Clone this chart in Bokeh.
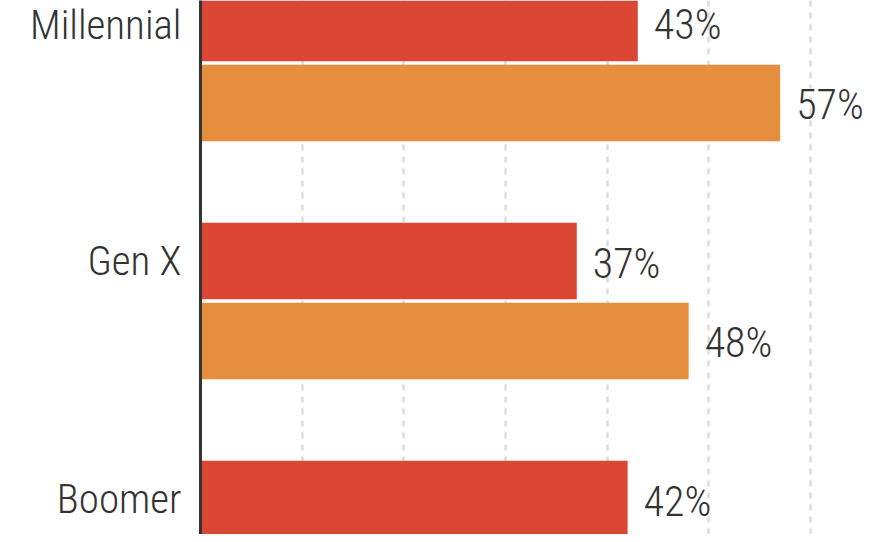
from bokeh.plotting import figure
from bokeh.models import Range1d, FixedTicker, ColumnDataSource
from bokeh.embed import file_html
from bokeh.resources import INLINE

# Data
categories = ["Boomer", "Gen X", "Millennial"]
red_values = [42, 37, 43]
orange_values = [41, 48, 57]
grid_ticks = [0, 10, 20, 30, 40, 50, 60]

FONT = "'Roboto Condensed Light', 'Roboto Condensed', 'DejaVu Sans Condensed', Roboto"
TEXT_COLOR = "#333333"
RED = "#DC4733"
ORANGE = "#E58E3E"

pos = list(range(len(categories)))
off = 0.336
bar_h = 0.322

red_src = ColumnDataSource(dict(
    y=[p for p in pos], v=red_values,
    lbl=[f"{v}%" for v in red_values]))
orange_src = ColumnDataSource(dict(
    y=[p - off for p in pos], v=orange_values,
    lbl=[f"{v}%" for v in orange_values]))

p = figure(width=872, height=534, output_backend="svg", toolbar_location=None,
           x_range=Range1d(0, 66.08), y_range=Range1d(-0.149, 2.0945),
           min_border_left=200, min_border_right=0, min_border_top=0,
           min_border_bottom=0)
p.outline_line_color = None
p.background_fill_color = "white"

p.hbar(y="y", right="v", left=0, height=bar_h, source=red_src,
       fill_color=RED, line_color=None)
p.hbar(y="y", right="v", left=0, height=bar_h, source=orange_src,
       fill_color=ORANGE, line_color=None)

for src in (red_src, orange_src):
    p.text(x="v", y="y", text="lbl", source=src, x_offset=16, y_offset=2,
           text_align="left", text_baseline="middle",
           text_font_size="42px", text_color=TEXT_COLOR,
           text_font={"value": FONT})

p.xaxis.visible = False
p.xgrid.ticker = FixedTicker(ticks=grid_ticks)
p.xgrid.grid_line_color = "#dddddd"
p.xgrid.grid_line_width = 2.5
p.xgrid.grid_line_dash = "6 6"
p.ygrid.visible = False

p.yaxis.ticker = FixedTicker(ticks=pos)
p.yaxis.major_label_overrides = {i: c for i, c in enumerate(categories)}
p.yaxis.major_tick_line_color = None
p.yaxis.minor_tick_line_color = None
p.yaxis.axis_line_color = "#333333"
p.yaxis.axis_line_width = 3
p.yaxis.major_label_standoff = 13
p.yaxis.major_label_text_font = FONT
p.yaxis.major_label_text_font_size = "41px"
p.yaxis.major_label_text_color = TEXT_COLOR

open("out.html", "w").write(file_html(p, INLINE))
